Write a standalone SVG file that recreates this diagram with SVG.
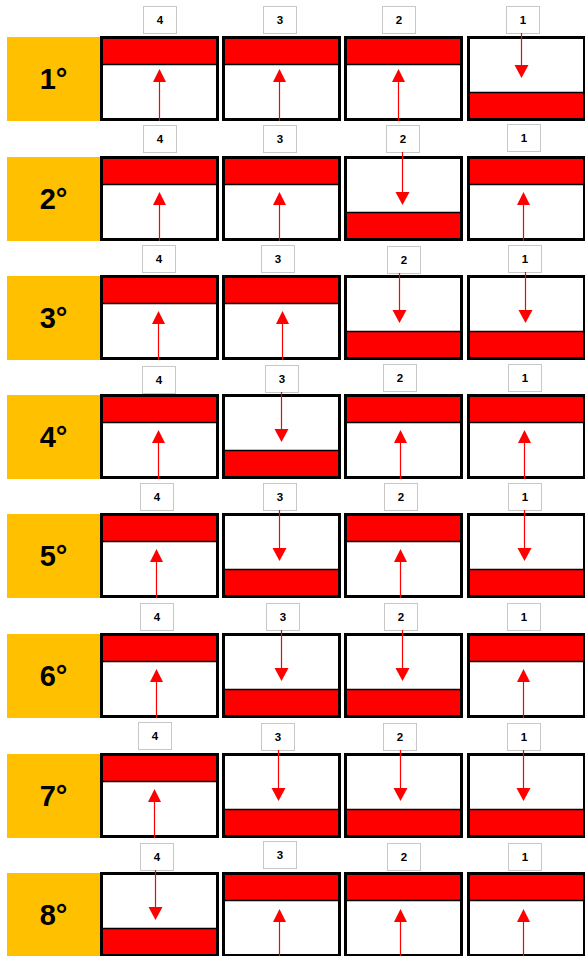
<svg xmlns="http://www.w3.org/2000/svg" xmlns:xlink="http://www.w3.org/1999/xlink" width="585" height="956" viewBox="0 0 585 956">
<style>
.frame{fill:#fff;stroke:#000;stroke-width:3}
.band{fill:#f00}
.dv{stroke:#000;stroke-width:1.5}
.ord{fill:#ffc000}
.ot{font-family:"Liberation Sans",Arial,sans-serif;font-weight:bold;font-size:29px;text-anchor:middle;fill:#000}
.lbl{fill:#fff;stroke:#c8c8c8;stroke-width:1}
.lt{font-family:"Liberation Sans",Arial,sans-serif;font-weight:bold;font-size:11.5px;text-anchor:middle;fill:#000}
.ln{stroke:#f00;stroke-width:1.2;fill:none}
.hd{fill:#f00}
</style>
<defs>
<g id="U">
<rect class="frame" x="1.5" y="1.5" width="116" height="82"/>
<rect class="band" x="3" y="3" width="113" height="25"/>
<line class="dv" x1="3" y1="28.5" x2="116" y2="28.5"/>
</g>
<g id="D">
<rect class="frame" x="1.5" y="1.5" width="116" height="82"/>
<rect class="band" x="3" y="57" width="113" height="25"/>
<line class="dv" x1="3" y1="56.5" x2="116" y2="56.5"/>
</g>
</defs>
<rect width="585" height="956" fill="#fff"/>

<g id="row1">
<rect class="ord" x="7" y="37" width="93" height="84"/><text class="ot" x="53.5" y="89">1°</text>
<use xlink:href="#U" href="#U" x="100" y="36"/><use xlink:href="#U" href="#U" x="222" y="36"/><use xlink:href="#U" href="#U" x="344" y="36"/><use xlink:href="#D" href="#D" x="467" y="36"/>
<rect class="lbl" x="143.5" y="6.5" width="33" height="27"/><text class="lt" x="160" y="24">4</text>
<rect class="lbl" x="263.5" y="6.5" width="33" height="27"/><text class="lt" x="280" y="24">3</text>
<rect class="lbl" x="382.5" y="6.5" width="33" height="27"/><text class="lt" x="399" y="24">2</text>
<rect class="lbl" x="506.5" y="6.5" width="33" height="27"/><text class="lt" x="523" y="24">1</text>
</g>

<g id="row2">
<rect class="ord" x="7" y="157" width="93" height="84"/><text class="ot" x="53.5" y="209">2°</text>
<use xlink:href="#U" href="#U" x="100" y="156"/><use xlink:href="#U" href="#U" x="222" y="156"/><use xlink:href="#D" href="#D" x="344" y="156"/><use xlink:href="#U" href="#U" x="467" y="156"/>
<rect class="lbl" x="143.5" y="125.5" width="33" height="27"/><text class="lt" x="160" y="143">4</text>
<rect class="lbl" x="263.5" y="125.5" width="33" height="27"/><text class="lt" x="280" y="143">3</text>
<rect class="lbl" x="386.5" y="125.5" width="33" height="27"/><text class="lt" x="403" y="143">2</text>
<rect class="lbl" x="507.5" y="124.5" width="33" height="27"/><text class="lt" x="524" y="142">1</text>
</g>

<g id="row3">
<rect class="ord" x="7" y="276" width="93" height="84"/><text class="ot" x="53.5" y="328">3°</text>
<use xlink:href="#U" href="#U" x="100" y="275"/><use xlink:href="#U" href="#U" x="222" y="275"/><use xlink:href="#D" href="#D" x="344" y="275"/><use xlink:href="#D" href="#D" x="467" y="275"/>
<rect class="lbl" x="142.5" y="245.5" width="33" height="27"/><text class="lt" x="159" y="263">4</text>
<rect class="lbl" x="261.5" y="245.5" width="33" height="27"/><text class="lt" x="278" y="263">3</text>
<rect class="lbl" x="387.5" y="246.5" width="33" height="27"/><text class="lt" x="404" y="264">2</text>
<rect class="lbl" x="508.5" y="245.5" width="33" height="27"/><text class="lt" x="525" y="263">1</text>
</g>

<g id="row4">
<rect class="ord" x="7" y="395" width="93" height="84"/><text class="ot" x="53.5" y="447">4°</text>
<use xlink:href="#U" href="#U" x="100" y="394"/><use xlink:href="#D" href="#D" x="222" y="394"/><use xlink:href="#U" href="#U" x="344" y="394"/><use xlink:href="#U" href="#U" x="467" y="394"/>
<rect class="lbl" x="142.5" y="366.5" width="33" height="27"/><text class="lt" x="159" y="384">4</text>
<rect class="lbl" x="265.5" y="365.5" width="33" height="27"/><text class="lt" x="282" y="383">3</text>
<rect class="lbl" x="383.5" y="364.5" width="33" height="27"/><text class="lt" x="400" y="382">2</text>
<rect class="lbl" x="508.5" y="364.5" width="33" height="27"/><text class="lt" x="525" y="382">1</text>
</g>

<g id="row5">
<rect class="ord" x="7" y="514" width="93" height="84"/><text class="ot" x="53.5" y="566">5°</text>
<use xlink:href="#U" href="#U" x="100" y="513"/><use xlink:href="#D" href="#D" x="222" y="513"/><use xlink:href="#U" href="#U" x="344" y="513"/><use xlink:href="#D" href="#D" x="467" y="513"/>
<rect class="lbl" x="140.5" y="483.5" width="33" height="27"/><text class="lt" x="157" y="501">4</text>
<rect class="lbl" x="263.5" y="483.5" width="33" height="27"/><text class="lt" x="280" y="501">3</text>
<rect class="lbl" x="384.5" y="483.5" width="33" height="27"/><text class="lt" x="401" y="501">2</text>
<rect class="lbl" x="508.5" y="483.5" width="33" height="27"/><text class="lt" x="525" y="501">1</text>
</g>

<g id="row6">
<rect class="ord" x="7" y="634" width="93" height="84"/><text class="ot" x="53.5" y="686">6°</text>
<use xlink:href="#U" href="#U" x="100" y="633"/><use xlink:href="#D" href="#D" x="222" y="633"/><use xlink:href="#D" href="#D" x="344" y="633"/><use xlink:href="#U" href="#U" x="467" y="633"/>
<rect class="lbl" x="140.5" y="603.5" width="33" height="27"/><text class="lt" x="157" y="621">4</text>
<rect class="lbl" x="266.5" y="603.5" width="33" height="27"/><text class="lt" x="283" y="621">3</text>
<rect class="lbl" x="384.5" y="603.5" width="33" height="27"/><text class="lt" x="401" y="621">2</text>
<rect class="lbl" x="507.5" y="603.5" width="33" height="27"/><text class="lt" x="524" y="621">1</text>
</g>

<g id="row7">
<rect class="ord" x="7" y="754" width="93" height="84"/><text class="ot" x="53.5" y="806">7°</text>
<use xlink:href="#U" href="#U" x="100" y="753"/><use xlink:href="#D" href="#D" x="222" y="753"/><use xlink:href="#D" href="#D" x="344" y="753"/><use xlink:href="#D" href="#D" x="467" y="753"/>
<rect class="lbl" x="138.5" y="722.5" width="33" height="27"/><text class="lt" x="155" y="740">4</text>
<rect class="lbl" x="261.5" y="723.5" width="33" height="27"/><text class="lt" x="278" y="741">3</text>
<rect class="lbl" x="383.5" y="723.5" width="33" height="27"/><text class="lt" x="400" y="741">2</text>
<rect class="lbl" x="507.5" y="723.5" width="33" height="27"/><text class="lt" x="524" y="741">1</text>
</g>

<g id="row8">
<rect class="ord" x="7" y="873" width="93" height="84"/><text class="ot" x="53.5" y="925">8°</text>
<use xlink:href="#D" href="#D" x="100" y="872"/><use xlink:href="#U" href="#U" x="222" y="872"/><use xlink:href="#U" href="#U" x="344" y="872"/><use xlink:href="#U" href="#U" x="467" y="872"/>
<rect class="lbl" x="140.5" y="843.5" width="33" height="27"/><text class="lt" x="157" y="861">4</text>
<rect class="lbl" x="263.5" y="841.5" width="33" height="27"/><text class="lt" x="280" y="859">3</text>
<rect class="lbl" x="387.5" y="843.5" width="33" height="27"/><text class="lt" x="404" y="861">2</text>
<rect class="lbl" x="508.5" y="843.5" width="33" height="27"/><text class="lt" x="525" y="861">1</text>
</g>

<g id="arrows">
<!-- row1 -->
<line class="ln" x1="159.5" y1="82" x2="159.5" y2="121"/><polygon class="hd" points="159.5,69 153,82 166,82"/>
<line class="ln" x1="279.5" y1="82" x2="279.5" y2="121"/><polygon class="hd" points="279.5,69 273,82 286,82"/>
<line class="ln" x1="398.5" y1="82" x2="398.5" y2="121"/><polygon class="hd" points="398.5,69 392,82 405,82"/>
<line class="ln" x1="521.5" y1="33" x2="521.5" y2="66"/><polygon class="hd" points="514.5,65 528.5,65 521.5,78"/>
<!-- row2 -->
<line class="ln" x1="159.5" y1="204" x2="159.5" y2="241"/><polygon class="hd" points="159.5,192 153,205 166,205"/>
<line class="ln" x1="279.5" y1="204" x2="279.5" y2="241"/><polygon class="hd" points="279.5,192 273,205 286,205"/>
<line class="ln" x1="402.5" y1="152" x2="402.5" y2="194"/><polygon class="hd" points="395.5,192 409.5,192 402.5,205"/>
<line class="ln" x1="523.5" y1="204" x2="523.5" y2="241"/><polygon class="hd" points="523.5,192 517,205 530,205"/>
<!-- row3 -->
<line class="ln" x1="158.5" y1="323" x2="158.5" y2="360"/><polygon class="hd" points="158.5,311 152,324 165,324"/>
<line class="ln" x1="282.5" y1="323" x2="282.5" y2="360"/><polygon class="hd" points="282.5,311 276,324 289,324"/>
<line class="ln" x1="399.5" y1="273" x2="399.5" y2="312"/><polygon class="hd" points="392.5,310 406.5,310 399.5,323"/>
<line class="ln" x1="525.5" y1="272" x2="525.5" y2="312"/><polygon class="hd" points="518.5,310 532.5,310 525.5,323"/>
<!-- row4 -->
<line class="ln" x1="158.5" y1="442" x2="158.5" y2="479"/><polygon class="hd" points="158.5,430 152,443 165,443"/>
<line class="ln" x1="281.5" y1="392" x2="281.5" y2="431"/><polygon class="hd" points="274.5,429 288.5,429 281.5,442"/>
<line class="ln" x1="400.5" y1="442" x2="400.5" y2="479"/><polygon class="hd" points="400.5,430 394,443 407,443"/>
<line class="ln" x1="524.5" y1="442" x2="524.5" y2="479"/><polygon class="hd" points="524.5,430 518,443 531,443"/>
<!-- row5 -->
<line class="ln" x1="156.5" y1="561" x2="156.5" y2="598"/><polygon class="hd" points="156.5,549 150,562 163,562"/>
<line class="ln" x1="279.5" y1="510" x2="279.5" y2="550"/><polygon class="hd" points="272.5,548 286.5,548 279.5,561"/>
<line class="ln" x1="400.5" y1="561" x2="400.5" y2="598"/><polygon class="hd" points="400.5,549 394,562 407,562"/>
<line class="ln" x1="524.5" y1="510" x2="524.5" y2="550"/><polygon class="hd" points="517.5,548 531.5,548 524.5,561"/>
<!-- row6 -->
<line class="ln" x1="156.5" y1="681" x2="156.5" y2="718"/><polygon class="hd" points="156.5,669 150,682 163,682"/>
<line class="ln" x1="281.5" y1="630" x2="281.5" y2="670"/><polygon class="hd" points="274.5,668 288.5,668 281.5,681"/>
<line class="ln" x1="402.5" y1="630" x2="402.5" y2="670"/><polygon class="hd" points="395.5,668 409.5,668 402.5,681"/>
<line class="ln" x1="523.5" y1="681" x2="523.5" y2="718"/><polygon class="hd" points="523.5,669 517,682 530,682"/>
<!-- row7 -->
<line class="ln" x1="154.5" y1="801" x2="154.5" y2="838"/><polygon class="hd" points="154.5,789 148,802 161,802"/>
<line class="ln" x1="278.5" y1="750" x2="278.5" y2="790"/><polygon class="hd" points="271.5,788 285.5,788 278.5,801"/>
<line class="ln" x1="400.5" y1="750" x2="400.5" y2="790"/><polygon class="hd" points="393.5,788 407.5,788 400.5,801"/>
<line class="ln" x1="523.5" y1="750" x2="523.5" y2="790"/><polygon class="hd" points="516.5,788 530.5,788 523.5,801"/>
<!-- row8 -->
<line class="ln" x1="155.5" y1="870" x2="155.5" y2="909"/><polygon class="hd" points="148.5,907 162.5,907 155.5,920"/>
<line class="ln" x1="279.5" y1="921" x2="279.5" y2="957"/><polygon class="hd" points="279.5,909 273,922 286,922"/>
<line class="ln" x1="400.5" y1="921" x2="400.5" y2="957"/><polygon class="hd" points="400.5,909 394,922 407,922"/>
<line class="ln" x1="523.5" y1="921" x2="523.5" y2="957"/><polygon class="hd" points="523.5,909 517,922 530,922"/>
</g>
</svg>
